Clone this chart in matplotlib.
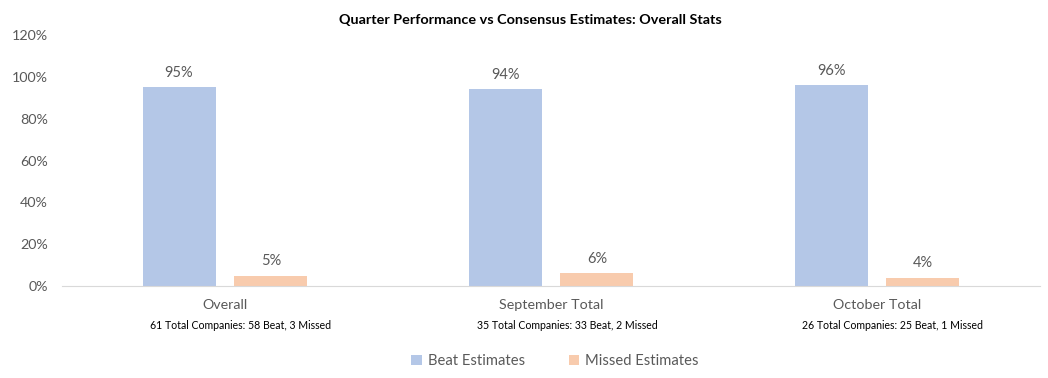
import matplotlib
matplotlib.use("Agg")
import matplotlib.pyplot as plt
import numpy as np

categories = ["Overall", "September Total", "October Total"]
sublabels = ["61 Total Companies: 58 Beat, 3 Missed",
             "35 Total Companies: 33 Beat, 2 Missed",
             "26 Total Companies: 25 Beat, 1 Missed"]
beat = [95, 94, 96]
missed = [5, 6, 4]
series_names = ["Beat Estimates", "Missed Estimates"]
yticks = [0, 20, 40, 60, 80, 100, 120]

plt.rcParams['font.family'] = ['Lato', 'DejaVu Sans']
gray = "#595959"

fig = plt.figure(figsize=(10.48, 3.78), dpi=100)
ax = fig.add_axes([62/1048, 92/378, 978/1048, 251/378])

x = np.arange(len(categories))
w = 0.224
off = 0.141
b1 = ax.bar(x - off, beat, w, color="#B4C7E7", label=series_names[0])
b2 = ax.bar(x + off, missed, w, color="#F8CBAD", label=series_names[1])

for bars, vals in ((b1, beat), (b2, missed)):
    for r, v in zip(bars, vals):
        ax.annotate(f"{v}%", (r.get_x() + r.get_width()/2, v), xytext=(0, 5.5),
                    textcoords="offset points", ha="center", va="bottom",
                    fontsize=10.5, color=gray)

ax.set_xlim(-0.5, 2.5)
ax.set_ylim(0, 120)
ax.set_yticks(yticks)
ax.set_yticklabels([f"{t}%" for t in yticks], fontsize=10.3, color=gray)
ax.tick_params(axis="y", length=0, pad=10)
ax.set_xticks(x)
ax.set_xticklabels([])
ax.tick_params(axis="x", length=0)
for s in ["top", "right", "left"]:
    ax.spines[s].set_visible(False)
ax.spines["bottom"].set_color("#D9D9D9")

sub_shift = 16 / 326
for xi, c, s in zip(x, categories, sublabels):
    ax.text(xi, -0.076, c, transform=ax.get_xaxis_transform(), ha="center",
            va="center", fontsize=10.3, color=gray)
    ax.text(xi + sub_shift, -0.157, s, transform=ax.get_xaxis_transform(), ha="center",
            va="center", fontsize=7.6, color="black")

fig.text(530/1048, 1 - 20/378, "Quarter Performance vs Consensus Estimates: Overall Stats",
         ha="center", va="center", fontsize=10.4, fontweight="bold", color="black")

fig.legend(handles=[b1, b2], labels=series_names, loc="center",
           bbox_to_anchor=(555/1048, 1 - 361/378), ncol=2, frameon=False,
           fontsize=10.6, labelcolor=gray, handlelength=0.7, handleheight=0.7,
           columnspacing=3.0, handletextpad=0.4)

fig.savefig("out.png", dpi=100)
